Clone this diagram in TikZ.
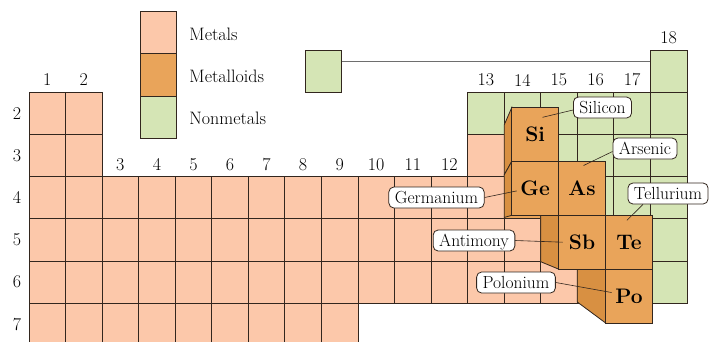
\documentclass[tikz,border=0pt]{standalone}
\usepackage{tikz}
\usetikzlibrary{positioning,calc}
\definecolor{metalpink}{RGB}{252,200,170}
\definecolor{metalloid}{RGB}{233,164,90}
\definecolor{metalloidside}{RGB}{216,144,66}
\definecolor{nonmetal}{RGB}{213,229,181}
\definecolor{gridline}{RGB}{50,38,30}
\definecolor{hline}{RGB}{110,110,110}
\newcommand{\cellat}[3]{\filldraw[fill=#3,draw=gridline] ({29+(#1-1)*36.55},{50+(#2-1)*42.2}) rectangle ++(36.55,42.2);}

\begin{document}
\begin{tikzpicture}[x=1pt,y=-1pt,line width=0.8pt,
  num/.style={font=\fontsize{18}{20}\selectfont,inner sep=0pt},
  keybox/.style={draw=gridline,minimum width=36.55pt,minimum height=42.2pt,inner sep=0pt,outer sep=0pt,anchor=north west},
  keytext/.style={font=\fontsize{18}{20}\selectfont,inner sep=0pt,right=12.5pt of #1,yshift=-1.5pt},
  face/.style={draw=gridline,fill=metalloid,minimum width=46.9pt,minimum height=53.8pt,inner sep=0pt,outer sep=0pt,anchor=north west,font=\fontsize{21}{24}\selectfont\bfseries},
  tag/.style={draw=gridline,fill=white,rounded corners=5pt,minimum height=21pt,inner xsep=6pt,inner ysep=0pt,text height=12pt,text depth=0pt,font=\fontsize{17.5}{19}\selectfont},
  pointer/.style={draw=gridline,line width=0.6pt}]
\useasboundingbox (0,0) rectangle (715,341);
\clip (0,0) rectangle (715,341);
\foreach \p in {2,...,7} \foreach \g in {1,2} {\cellat{\g}{\p}{metalpink}}
\foreach \p in {4,5,6} \foreach \g in {3,...,12} {\cellat{\g}{\p}{metalpink}}
\foreach \g in {3,...,9} {\cellat{\g}{7}{metalpink}}
\foreach \g/\p in {13/3,13/4,13/5,14/5,13/6,14/6,15/6} {\cellat{\g}{\p}{metalpink}}
\foreach \g/\p in {13/2,14/2,15/2,16/2,17/2,18/2,15/3,16/3,17/3,18/3,16/4,17/4,18/4,17/5,18/5,17/6,18/6} {\cellat{\g}{\p}{nonmetal}}
\foreach \g/\p in {14/3,14/4,15/4,15/5,16/5,16/6} {\cellat{\g}{\p}{metalloid}}
\node[keybox,fill=nonmetal] (helium) at (650.35,50) {};
\node[keybox,fill=nonmetal] (hydrogen) at (305,50) {};
\draw[hline] ([yshift=-11.7pt]hydrogen.north east) -- ([yshift=-11.7pt]helium.north west);
\node[keybox,fill=metalpink] (metalkey) at (140,11.5) {};
\node[keybox,fill=metalloid,below=0pt of metalkey,anchor=north] (metalloidkey) {};
\node[keybox,fill=nonmetal,below=0pt of metalloidkey,anchor=north] (nonmetalkey) {};
\node[keytext=metalkey] (metaltext) {Metals};
\node[keytext=metalloidkey] (metalloidtext) {Metalloids};
\node[keytext=nonmetalkey] (nonmetaltext) {Nonmetals};
\foreach \g in {1,2,13,14,15,16,17} \node[num] (g\g) at ({29+(\g-0.5)*36.55},80) {\g};
\foreach \g in {3,...,12} \node[num] (g\g) at ({29+(\g-0.5)*36.55},164.5) {\g};
\node[num] (g18) at ({29+17.5*36.55},37.5) {18};
\foreach \p in {2,...,7} \node[num] (p\p) at (17,{50+(\p-0.5)*42.2}) {\p};
\filldraw[fill=metalloidside,draw=gridline] (504.15,125) -- (511.7,107.7) -- (511.7,161.5) -- (504.15,175) -- cycle;
\filldraw[fill=metalloidside,draw=gridline] (504.15,175) -- (511.7,161.5) -- (511.7,215.3) -- (504.15,217.5) -- cycle;
\filldraw[fill=metalloidside,draw=gridline] (540.7,215.3) -- (558.6,215.3) -- (558.6,269.1) -- (540.7,261.7) -- cycle;
\filldraw[fill=metalloidside,draw=gridline] (577.3,261.7) -- (605.5,269.1) -- (605.5,322.9) -- (577.3,302) -- cycle;
\foreach \nm/\sym/\i/\j in {si/Si/0/0,ge/Ge/0/1,as/As/1/1,sb/Sb/1/2,te/Te/2/2,po/Po/2/3}
  \node[face] (\nm) at ({511.7+\i*46.9},{107.7+\j*53.8}) {\sym};
\node[tag] (silicon) at (602.5,107.5) {Silicon};
\node[tag] (arsenic) at (645,148.5) {Arsenic};
\node[tag] (tellurium) at (668,193.5) {Tellurium};
\node[tag] (germanium) at (436.5,197.5) {Germanium};
\node[tag] (antimony) at (474,240.5) {Antimony};
\node[tag] (polonium) at (516,282.5) {Polonium};
\draw[pointer] ([yshift=-2.5pt]silicon.west) -- ($(si.north)+(7.4,9.6)$);
\draw[pointer] ([yshift=-3pt]arsenic.west) -- ($(as.north)+(1.5,4)$);
\draw[pointer] ([xshift=-25pt]tellurium.south) -- ($(te.north)+(-2,5)$);
\draw[pointer] (germanium.east) -- ($(ge.west)+(5,2.5)$);
\draw[pointer] (antimony.east) -- ($(sb.west)+(4,0)$);
\draw[pointer] (polonium.east) -- ($(po.west)+(6,-3.5)$);
\end{tikzpicture}
\end{document}
